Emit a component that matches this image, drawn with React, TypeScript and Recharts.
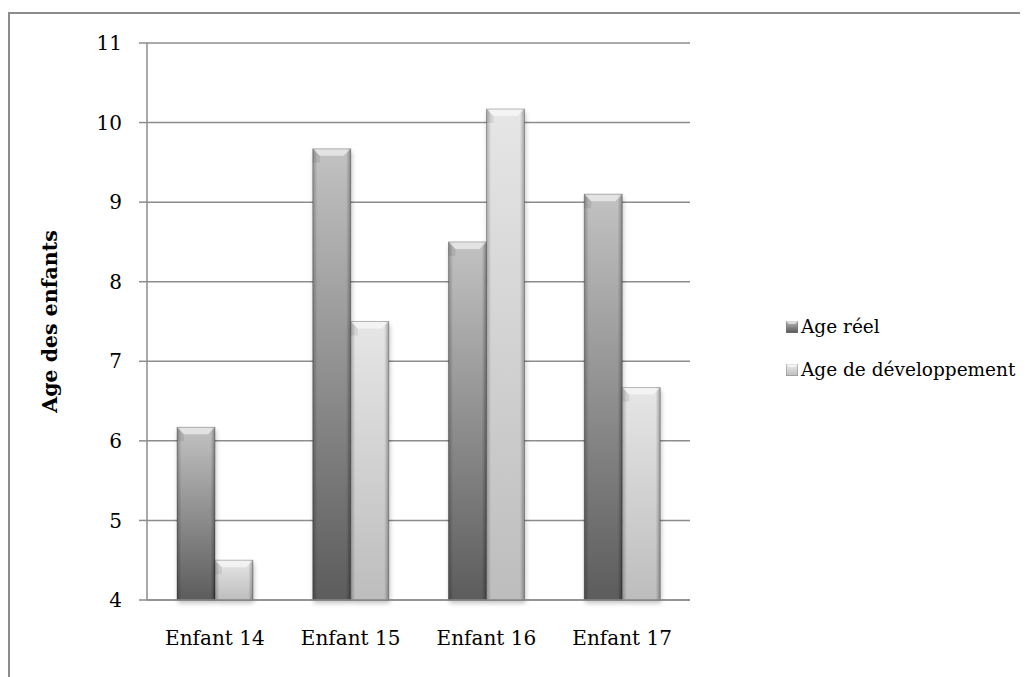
import React from "react";
import { BarChart, Bar, XAxis, YAxis, CartesianGrid } from "recharts";

const categories = ["Enfant 14", "Enfant 15", "Enfant 16", "Enfant 17"];
const ageReel = [6.17, 9.67, 8.5, 9.1];
const ageDev = [4.5, 7.5, 10.17, 6.67];
const yTicks = [4, 5, 6, 7, 8, 9, 10, 11];
const seriesNames = ["Age réel", "Age de développement"];

const data = categories.map((name, i) => ({
  name,
  reel: ageReel[i],
  dev: ageDev[i],
}));

const FONT = "'DejaVu Serif', serif";

// bevelled bar look like the office chart
const makeShape = (kind: "dark" | "light") => (props: any) => {
  const { x, y, width, height, index } = props;
  if (!height || height <= 0) return null;
  const id = `${kind}-${index}`;
  const top = kind === "dark" ? "#c2c2c2" : "#e6e6e6";
  const bottom = kind === "dark" ? "#5c5c5c" : "#bdbdbd";
  const bev = 7;
  return (
    <g>
      <defs>
        <linearGradient id={`v-${id}`} x1="0" y1="0" x2="0" y2="1">
          <stop offset="0%" stopColor={top} />
          <stop offset="100%" stopColor={bottom} />
        </linearGradient>
        <linearGradient id={`h-${id}`} x1="0" y1="0" x2="1" y2="0">
          <stop offset="0%" stopColor="#000" stopOpacity={0.25} />
          <stop offset="12%" stopColor="#000" stopOpacity={0} />
          <stop offset="88%" stopColor="#000" stopOpacity={0} />
          <stop offset="100%" stopColor="#000" stopOpacity={0.3} />
        </linearGradient>
        <filter id={`s-${id}`} x="-20%" y="-20%" width="140%" height="140%">
          <feGaussianBlur stdDeviation="2.5" />
        </filter>
      </defs>
      <rect x={x + 1} y={y + 3} width={width} height={height} fill="#000" opacity={0.25} filter={`url(#s-${id})`} />
      <rect x={x} y={y} width={width} height={height} fill={`url(#v-${id})`} />
      <rect x={x} y={y} width={width} height={height} fill={`url(#h-${id})`} />
      <polygon
        points={`${x},${y} ${x + width},${y} ${x + width - bev},${y + bev} ${x + bev},${y + bev}`}
        fill="#fff"
        opacity={0.55}
      />
      <polygon
        points={`${x},${y} ${x + bev},${y + bev} ${x + bev},${y + Math.min(bev * 2, height)} ${x},${y + Math.min(bev * 2, height)}`}
        fill="#000"
        opacity={0.08}
      />
      <rect x={x} y={y} width={width} height={height} fill="none" stroke="#000" strokeOpacity={0.25} strokeWidth={1} />
    </g>
  );
};

const Marker = ({ kind }: { kind: "dark" | "light" }) => (
  <svg width={12} height={12} style={{ marginRight: 3, flex: "none" }}>
    <defs>
      <linearGradient id={`lg-${kind}`} x1="0" y1="0" x2="0" y2="1">
        <stop offset="0%" stopColor={kind === "dark" ? "#bcbcbc" : "#eeeeee"} />
        <stop offset="100%" stopColor={kind === "dark" ? "#555" : "#bbbbbb"} />
      </linearGradient>
    </defs>
    <rect x={0} y={0} width={12} height={12} fill={`url(#lg-${kind})`} stroke="#777" strokeWidth={0.8} />
    <polygon points="0,0 12,0 9,3 3,3" fill="#fff" opacity={0.6} />
  </svg>
);

const App: React.FC = () => {
  return (
    <div style={{ position: "relative", width: 1020, height: 669 }}>
      <div
        style={{
          position: "absolute",
          left: 0,
          top: 4,
          width: 1020,
          height: 665,
          borderLeft: "2px solid #8c8c8c",
          borderTop: "2px solid #8c8c8c",
          boxSizing: "border-box",
        }}
      />
      <BarChart
        width={1020}
        height={669}
        data={data}
        margin={{ top: 35, right: 338, bottom: 47, left: 0 }}
        barGap={0}
        barSize={38}
        style={{ position: "absolute", left: 0, top: 0 }}
      >
        <CartesianGrid vertical={false} stroke="#8c8c8c" strokeWidth={1.5} />
        <XAxis
          dataKey="name"
          interval={0}
          height={30}
          axisLine={{ stroke: "#8c8c8c", strokeWidth: 1.5 }}
          tickLine={false}
          tickSize={0}
          tickMargin={31}
          tick={{ fill: "#000", fontFamily: FONT, fontSize: 20 }}
        />
        <YAxis
          width={139}
          domain={[4, 11]}
          ticks={yTicks}
          interval={0}
          axisLine={{ stroke: "#8c8c8c", strokeWidth: 1.5 }}
          tickLine={{ stroke: "#8c8c8c", strokeWidth: 1.5 }}
          tickSize={8}
          tickMargin={17}
          tick={{ fill: "#000", fontFamily: FONT, fontSize: 20 }}
          label={{
            content: (p: any) => {
              const vb = p.viewBox || {};
              const cx = 42;
              const cy = (vb.y ?? 35) + (vb.height ?? 557) / 2;
              return (
                <text
                  x={cx}
                  y={cy}
                  transform={`rotate(-90 ${cx} ${cy})`}
                  textAnchor="middle"
                  dominantBaseline="central"
                  fontFamily={FONT}
                  fontSize={20.5}
                  fontWeight="bold"
                  fill="#000"
                >
                  Age des enfants
                </text>
              );
            },
          }}
        />
        <Bar dataKey="reel" name={seriesNames[0]} fill="#888" shape={makeShape("dark")} isAnimationActive={false} />
        <Bar dataKey="dev" name={seriesNames[1]} fill="#ddd" shape={makeShape("light")} isAnimationActive={false} />
      </BarChart>
      <div
        style={{
          position: "absolute",
          left: 778,
          top: 297,
          fontFamily: FONT,
          fontSize: 18.5,
          color: "#000",
          whiteSpace: "nowrap",
        }}
      >
        {seriesNames.map((n, i) => (
          <div key={n} style={{ display: "flex", alignItems: "center", height: 43 }}>
            <Marker kind={i === 0 ? "dark" : "light"} />
            <span>{n}</span>
          </div>
        ))}
      </div>
    </div>
  );
};

export default App;
